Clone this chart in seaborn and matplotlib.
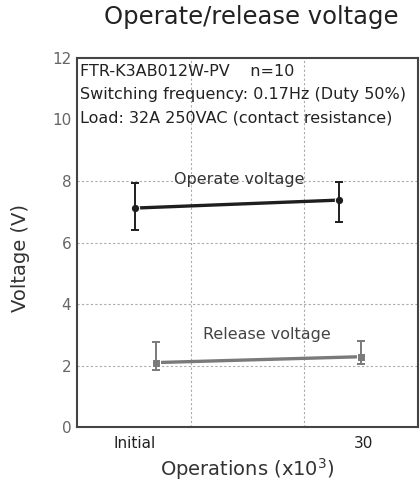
import matplotlib
matplotlib.use("Agg")
import matplotlib.pyplot as plt
import seaborn as sns
import pandas as pd

# values
operate_x = [0.51, 2.31]
operate_mean = [7.12, 7.38]
operate_max = [7.95, 7.97]
operate_min = [6.40, 6.68]

release_x = [0.70, 2.50]
release_mean = [2.10, 2.29]
release_max = [2.77, 2.81]
release_min = [1.85, 2.04]

tick_pos = [0.51, 2.52]
tick_labels = ["Initial", "30"]

sns.set_style("white")
plt.rcParams['font.family'] = ['DejaVu Sans']

fig = plt.figure(figsize=(4.2, 4.95), dpi=100)
ax = fig.add_axes([0.183, 0.137, 0.812, 0.746])

df = pd.DataFrame({
    "x": operate_x + release_x,
    "V": operate_mean + release_mean,
    "kind": ["Operate"] * 2 + ["Release"] * 2,
})
colors = {"Operate": "#1e1e1e", "Release": "#7a7a7a"}
sns.lineplot(data=df, x="x", y="V", hue="kind", style="kind",
             markers={"Operate": "o", "Release": "s"}, dashes=False,
             palette=colors, linewidth=2.4, markersize=6, legend=False, ax=ax)

for xs, m, lo, hi, c in [(operate_x, operate_mean, operate_min, operate_max, colors["Operate"]),
                         (release_x, release_mean, release_min, release_max, colors["Release"])]:
    yerr = [[a - b for a, b in zip(m, lo)], [b - a for a, b in zip(m, hi)]]
    ax.errorbar(xs, m, yerr=yerr, fmt="none", ecolor=c, elinewidth=1.4, capsize=3, capthick=1.4)

ax.set_xlim(0, 3)
ax.set_ylim(0, 12)
ax.set_yticks(range(0, 13, 2))
ax.set_xticks(tick_pos)
ax.set_xticklabels(tick_labels)
ax.tick_params(axis="y", length=0, labelsize=11, colors="#666666", pad=4)
ax.tick_params(axis="x", length=0, labelsize=11, colors="#222222", pad=6)

for v in [2, 4, 6, 8]:
    ax.axhline(v, color="#aaaaaa", linestyle=(0, (2, 2)), linewidth=0.8, zorder=0)
for v in [1, 2]:
    ax.axvline(v, color="#aaaaaa", linestyle=(0, (2, 2)), linewidth=0.8, zorder=0)

for s in ax.spines.values():
    s.set_visible(True)
    s.set_color("#444444")
    s.set_linewidth(1.5)

ax.set_xlabel("Operations (x10$^3$)", fontsize=14, color="#333333", labelpad=4)
ax.set_ylabel("Voltage (V)", fontsize=14, color="#333333")
ax.yaxis.set_label_coords(-0.138, 0.458)

ax.text(0.03, 11.8, "FTR-K3AB012W-PV    n=10\nSwitching frequency: 0.17Hz (Duty 50%)\nLoad: 32A 250VAC (contact resistance)",
        fontsize=11.5, color="#222222", va="top", ha="left", linespacing=1.7)
ax.text(1.43, 8.05, "Operate voltage", fontsize=11.5, color="#333333", ha="center", va="center")
ax.text(1.67, 3.0, "Release voltage", fontsize=11.5, color="#444444", ha="center", va="center")

fig.suptitle("Operate/release voltage", fontsize=17.5, x=0.598, y=0.99, va="top", color="#222222")

fig.savefig("out.png", dpi=100)
